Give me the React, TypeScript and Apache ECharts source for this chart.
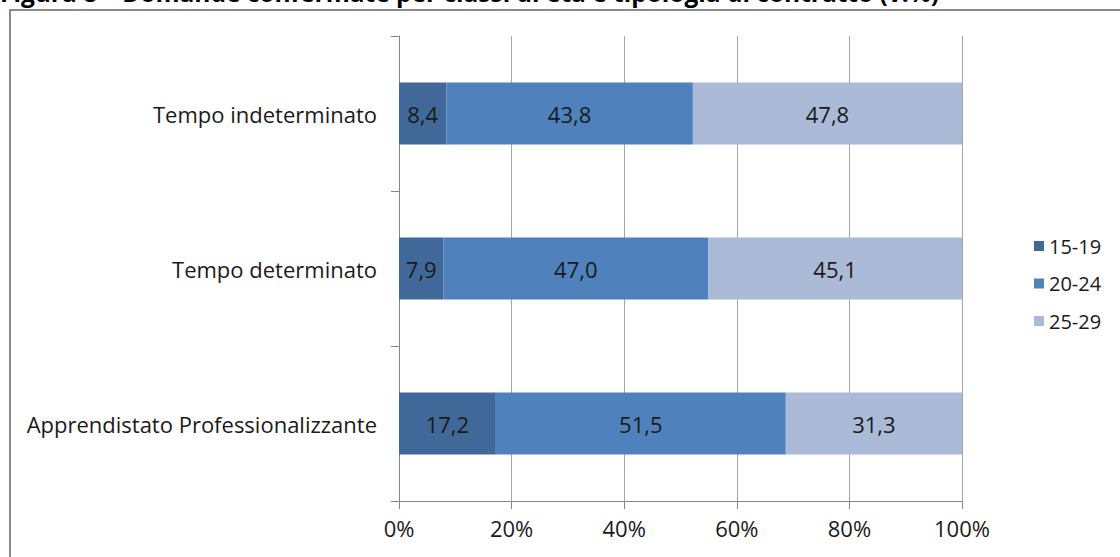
import React, { useEffect, useRef } from "react";
import * as echarts from "echarts";

const categories = ["Apprendistato Professionalizzante", "Tempo determinato", "Tempo indeterminato"];
const seriesNames = ["15-19", "20-24", "25-29"];
const values1519 = [17.2, 7.9, 8.4];
const values2024 = [51.5, 47.0, 43.8];
const values2529 = [31.3, 45.1, 47.8];
const colors = ["#406899", "#4F81BD", "#AABAD7"];
const titleText = "Figura 8 – Domande confermate per classi di età e tipologia di contratto (v.%)";

const FONT = "Open Sans";

export default function App() {
  const ref = useRef<HTMLDivElement>(null);
  useEffect(() => {
    document.body.style.margin = "0";
    const chart = echarts.init(ref.current!, undefined, { renderer: "svg" });
    const all = [values1519, values2024, values2529];
    chart.setOption({
      animation: false,
      textStyle: { fontFamily: FONT },
      graphic: [
        {
          type: "rect",
          shape: { x: 10, y: 10, width: 1130, height: 570 },
          style: { fill: "none", stroke: "#8a8a8a", lineWidth: 2 },
          silent: true,
        },
        {
          type: "text",
          x: 0,
          y: -8,
          style: {
            text: titleText,
            font: `bold 24.5px "${FONT}"`,
            fill: "#000",
            verticalAlign: "middle",
            align: "left",
          },
        },
      ],
      legend: {
        orient: "vertical",
        left: 1029,
        top: 231,
        itemWidth: 10,
        itemHeight: 10,
        itemGap: 17.5,
        icon: "rect",
        textStyle: { fontSize: 20, color: "#1a1a1a", fontFamily: FONT, lineHeight: 20 },
        data: seriesNames,
      },
      grid: { left: 399, top: 36, right: 158, bottom: 56, containLabel: false },
      xAxis: {
        type: "value",
        min: 0,
        max: 100,
        interval: 20,
        axisLine: { show: true, lineStyle: { color: "#868686" } },
        axisTick: { show: true, length: 8, lineStyle: { color: "#868686" } },
        splitLine: { show: true, lineStyle: { color: "#a6a6a6" } },
        axisLabel: { formatter: "{value}%", fontSize: 22, color: "#1a1a1a", margin: 16 },
      },
      yAxis: {
        type: "category",
        data: categories,
        axisLine: { show: true, lineStyle: { color: "#868686" } },
        axisTick: { show: true, length: 8, alignWithLabel: false, lineStyle: { color: "#868686" } },
        axisLabel: { fontSize: 22, color: "#1a1a1a", margin: 22 },
        splitLine: { show: false },
      },
      series: seriesNames.map((name, i) => ({
        name,
        type: "bar",
        stack: "total",
        barCategoryGap: "60%",
        data: all[i],
        itemStyle: { color: colors[i] },
        label: {
          show: true,
          position: "inside",
          fontSize: 22,
          color: "#1a1a1a",
          formatter: (p: any) => Number(p.value).toFixed(1).replace(".", ","),
        },
      })),
    });
    return () => chart.dispose();
  }, []);
  return <div ref={ref} style={{ width: 1120, height: 557 }} />;
}
